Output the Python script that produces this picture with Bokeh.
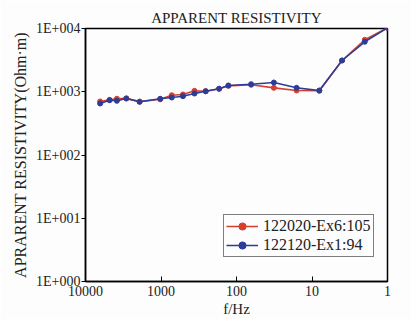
from bokeh.plotting import figure
from bokeh.models import Range1d, FixedTicker, Legend, LegendItem
from bokeh.embed import file_html
from bokeh.resources import INLINE

# Frequencies (Hz)
freq = [6400, 4800, 3840, 2880, 1920, 1024, 720, 512, 360, 256, 170, 128, 64, 32, 16, 8, 4, 2, 1]
# Apparent resistivity (Ohm·m)
rho_red = [702, 745, 775, 785, 698, 760, 881, 906, 1035, 1020, 1115, 1240, 1288, 1153, 1047, 1035, 3120, 6620, 10230]
rho_blue = [652, 735, 719, 782, 693, 774, 811, 851, 938, 1020, 1115, 1256, 1316, 1400, 1153, 1047, 3120, 6170, 10230]

y_ticks = [1, 10, 100, 1000, 10000]
y_tick_labels = ["1E+000", "1E+001", "1E+002", "1E+003", "1E+004"]
x_ticks = [10000, 1000, 100, 10, 1]
x_tick_labels = ["10000", "1000", "100", "10", "1"]

series_names = ["122020-Ex6:105", "122120-Ex1:94"]

FONT = "Liberation Serif"
RED = "#d4402e"
BLUE = "#2c3d98"
TXT = "#222222"

p = figure(width=411, height=319, output_backend="svg", toolbar_location=None,
           x_axis_type="log", y_axis_type="log",
           x_range=Range1d(10000, 1), y_range=Range1d(1, 10000),
           min_border_left=85, min_border_right=24, min_border_top=28, min_border_bottom=38)

p.title.text = "APPARENT RESISTIVITY"
p.title.align = "center"
p.title.text_font = FONT
p.title.text_font_size = "15px"
p.title.text_font_style = "normal"
p.title.text_color = TXT
p.title.offset = 0
p.title.standoff = 6

p.xgrid.visible = False
p.ygrid.visible = False
p.outline_line_color = "black"
p.outline_line_width = 1.5
p.background_fill_color = "#fdfdfd"
p.border_fill_color = "#fdfdfd"

for ax in (p.xaxis[0], p.yaxis[0]):
    ax.axis_line_width = 1.5
    ax.axis_line_color = "black"
    ax.major_tick_line_color = "black"
    ax.minor_tick_line_color = None
    ax.major_label_text_font = FONT
    ax.major_label_text_font_size = "14px"
    ax.major_label_text_color = TXT
    ax.axis_label_text_font = FONT
    ax.axis_label_text_font_style = "normal"
    ax.axis_label_text_color = TXT

p.xaxis.ticker = FixedTicker(ticks=x_ticks, minor_ticks=[])
p.xaxis.major_label_overrides = {t: l for t, l in zip(x_ticks, x_tick_labels)}
p.xaxis.major_tick_in = 5
p.xaxis.major_tick_out = 0
p.xaxis.major_label_standoff = 4
p.xaxis.axis_label = "f/Hz"
p.xaxis.axis_label_text_font_size = "15px"
p.xaxis.axis_label_standoff = 2

p.yaxis.ticker = FixedTicker(ticks=y_ticks, minor_ticks=[])
p.yaxis.major_label_overrides = {t: l for t, l in zip(y_ticks, y_tick_labels)}
p.yaxis.major_tick_in = 0
p.yaxis.major_tick_out = 4
p.yaxis.major_label_standoff = 1
p.yaxis.axis_label = "APRARENT RESISTIVITY(Ohm·m)"
p.yaxis.axis_label_text_font_size = "16px"
p.yaxis.axis_label_standoff = 4

r1 = p.line(freq, rho_red, line_color=RED, line_width=1.6)
c1 = p.scatter(freq, rho_red, size=5, fill_color=RED, line_color=RED)
r2 = p.line(freq, rho_blue, line_color=BLUE, line_width=1.6)
c2 = p.scatter(freq, rho_blue, size=5, fill_color=BLUE, line_color=BLUE)

legend = Legend(items=[LegendItem(label=series_names[0], renderers=[r1, c1]),
                       LegendItem(label=series_names[1], renderers=[r2, c2])],
                location=(138, 24),
                label_text_font=FONT, label_text_font_size="16px",
                label_text_color=TXT,
                border_line_color="black", border_line_width=1.5,
                background_fill_alpha=1.0, background_fill_color="#fdfdfd",
                margin=0, padding=2, spacing=1, label_height=18, glyph_width=32,
                glyph_height=18, label_standoff=5)
p.add_layout(legend)

open("out.html", "w").write(file_html(p, INLINE))
